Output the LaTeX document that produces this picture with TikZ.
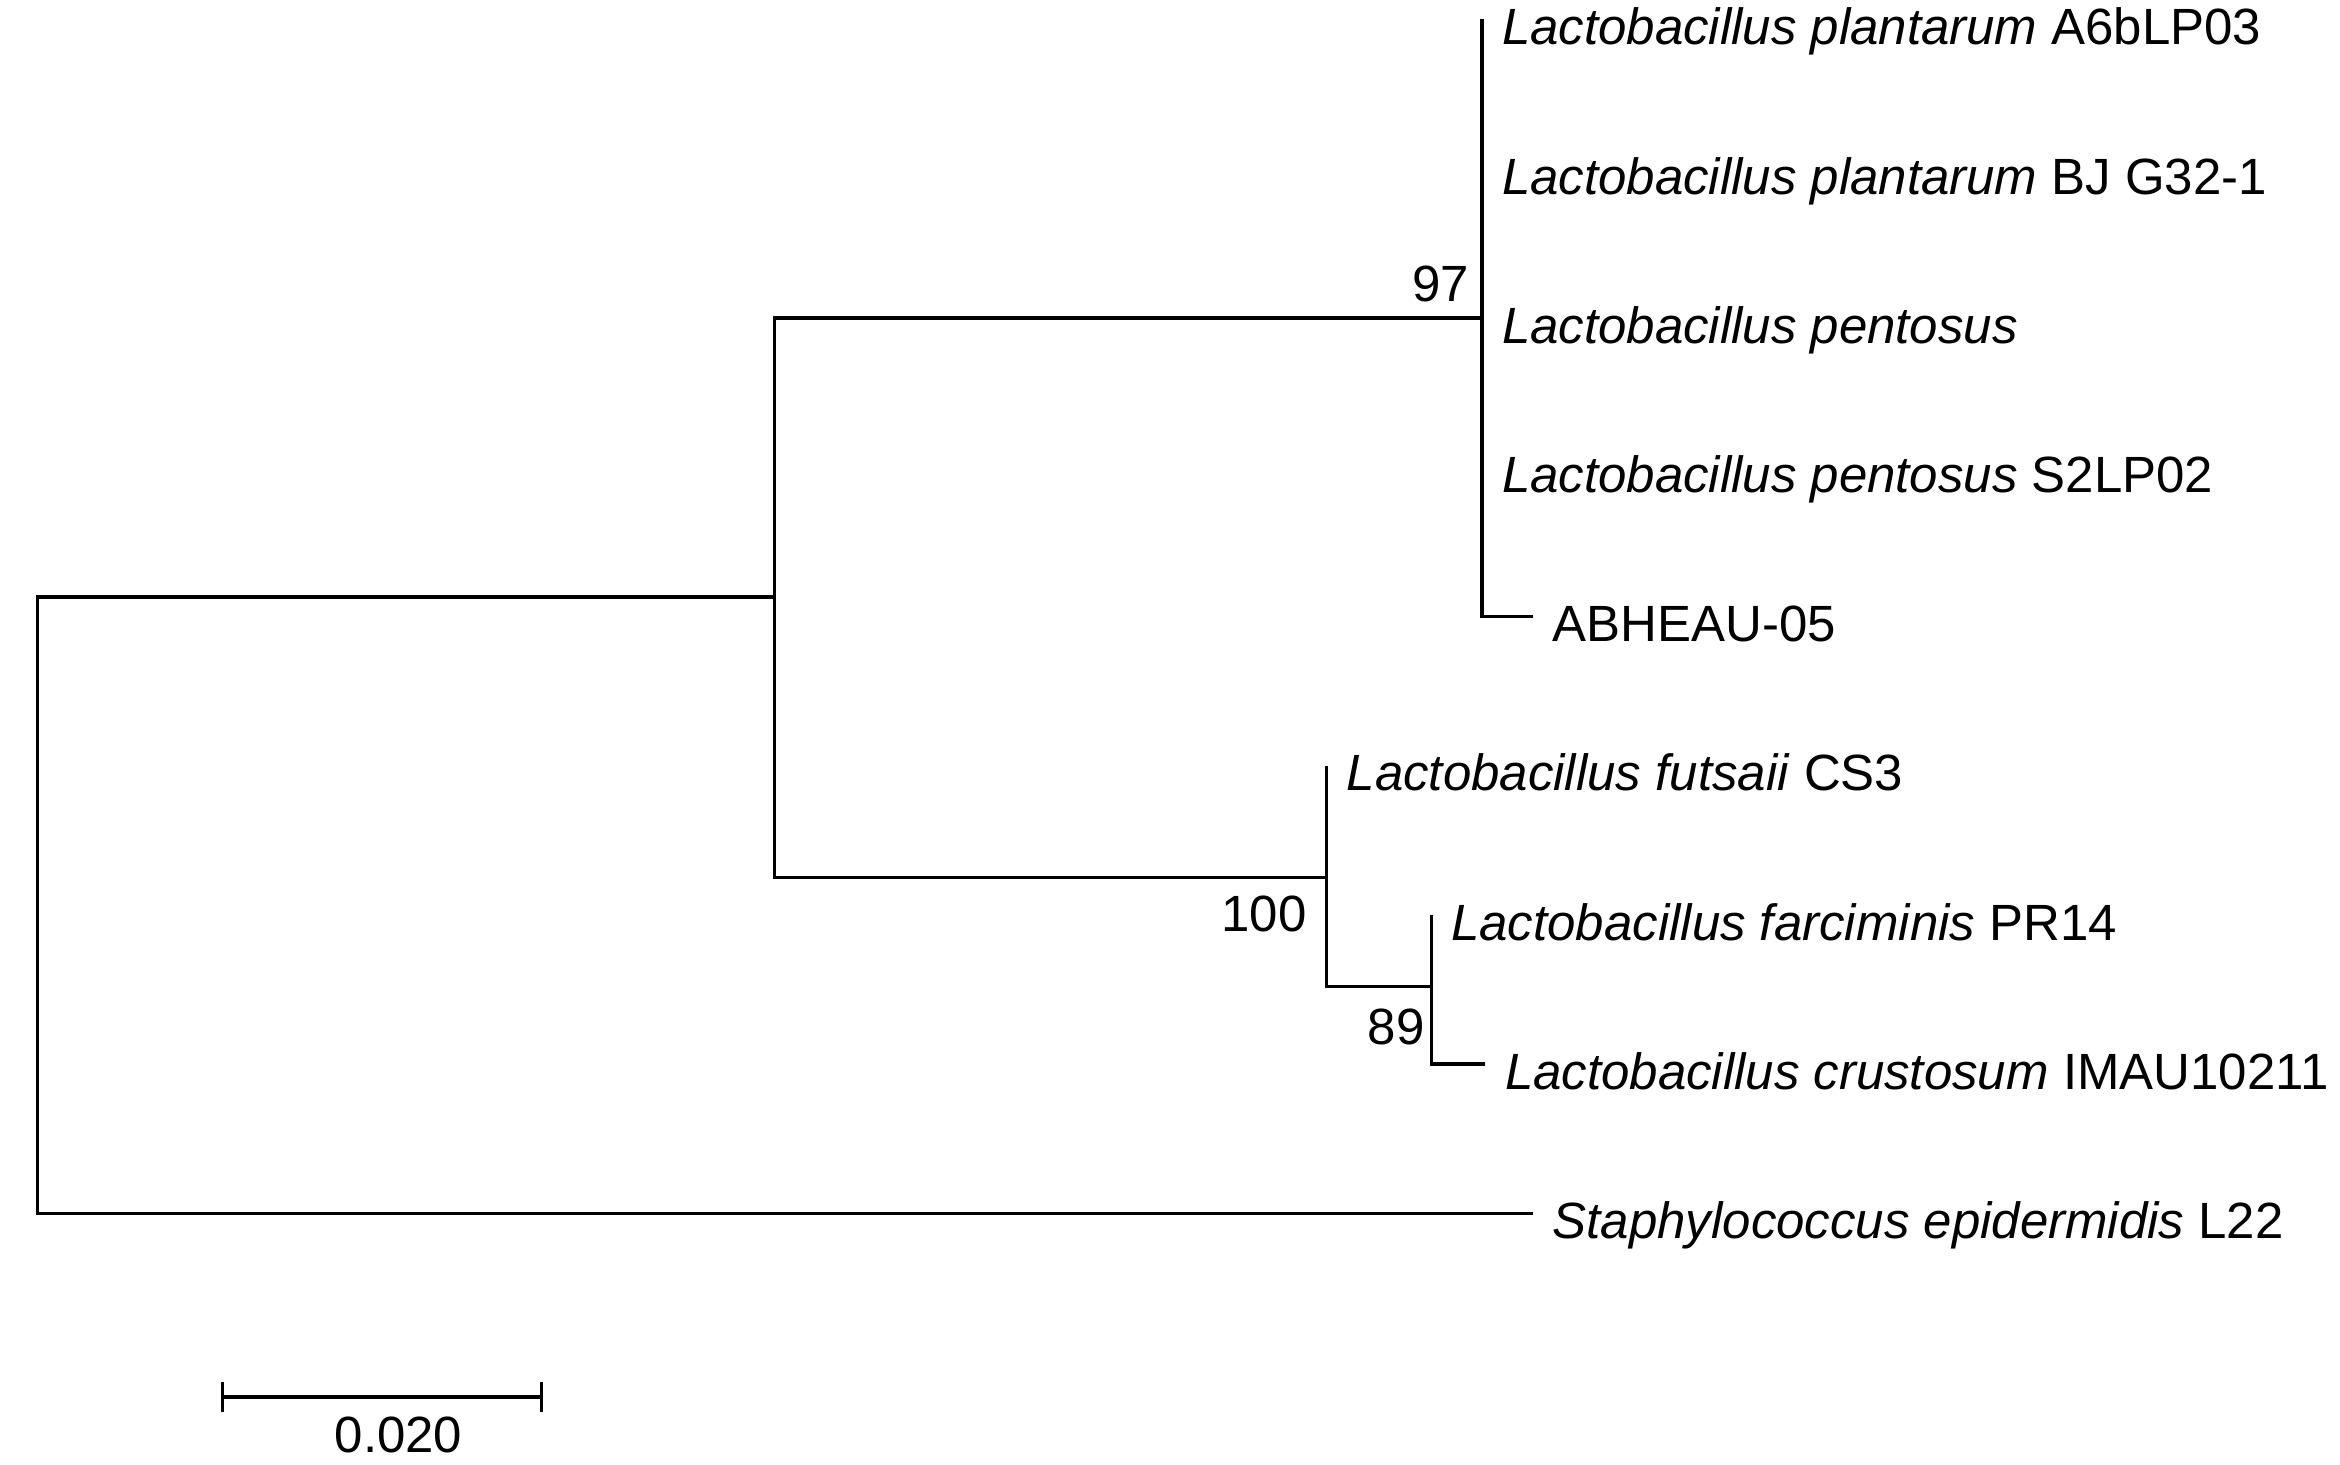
\documentclass[tikz,border=0pt]{standalone}
\usepackage{fontspec}
\setmainfont{Liberation Sans}
\usetikzlibrary{positioning,calc}
\tikzset{
  branch/.style={line width=0.95pt},
  leaflbl/.style={anchor=base west, inner sep=0pt, font=\fontsize{14.5}{17}\selectfont},
  bootlbl/.style={anchor=base east, inner sep=0pt, font=\fontsize{14.5}{17}\selectfont},
}
\begin{document}
\begin{tikzpicture}[x=0.014923cm, y=-0.014923cm]
 \useasboundingbox (0,0) rectangle (1568,981);
 % inner nodes of the tree
 \coordinate (root) at (25,400);
 \coordinate (nA) at (519,400);
 \coordinate (n97) at (993,213);
 \coordinate (n100) at (889,588);
 \coordinate (n89) at (959,661);
 % tips
 \foreach \nm/\x/\y in {t1/993/13, t2/993/113, t3/993/213, t4/993/313, t5/1027/413,
                        t6/889/513, t7/959/613, t8/995/713, t9/1027/813}
   \coordinate (\nm) at (\x,\y);
 % branches
 \draw[branch] (nA) -- (root) |- (t9);
 \draw[branch] (n97) -| (nA) |- (n100);
 \draw[branch] (t1) -- (n97) |- (t5);
 \draw[branch] (t6) -- (n100) |- (n89);
 \draw[branch] (t7) -- (n89) |- (t8);
 % taxa
 \foreach \nm/\txt in {%
   t1/{\textit{Lactobacillus plantarum} A6bLP03},
   t2/{\textit{Lactobacillus plantarum} BJ G32-1},
   t3/{\textit{Lactobacillus pentosus}},
   t4/{\textit{Lactobacillus pentosus} S2LP02},
   t5/{ABHEAU-05},
   t6/{\textit{Lactobacillus futsaii} CS3},
   t7/{\textit{Lactobacillus farciminis} PR14},
   t8/{\textit{Lactobacillus crustosum} IMAU10211},
   t9/{\textit{Staphylococcus epidermidis} L22}}
   \node[leaflbl] (l\nm) at ([shift={(13,17)}]\nm) {\txt};
 % bootstrap values
 \node[bootlbl] (b97) at ([shift={(-8,-11)}]n97) {97};
 \node[bootlbl] (b100) at ([shift={(-13,36)}]n100) {100};
 \node[bootlbl] (b89) at ([shift={(-4,39)}]n89) {89};
 % scale bar
 \coordinate (sb1) at (149,936);
 \coordinate (sb2) at (363,936);
 \draw[branch] (sb1) -- (sb2);
 \draw[branch] ([shift={(0,-10)}]sb1) -- ([shift={(0,10)}]sb1);
 \draw[branch] ([shift={(0,-10)}]sb2) -- ([shift={(0,10)}]sb2);
 \node[bootlbl, anchor=base] (sblbl) at ($(sb1)!0.5!(sb2)+(11,37)$) {0.020};
\end{tikzpicture}
\end{document}
